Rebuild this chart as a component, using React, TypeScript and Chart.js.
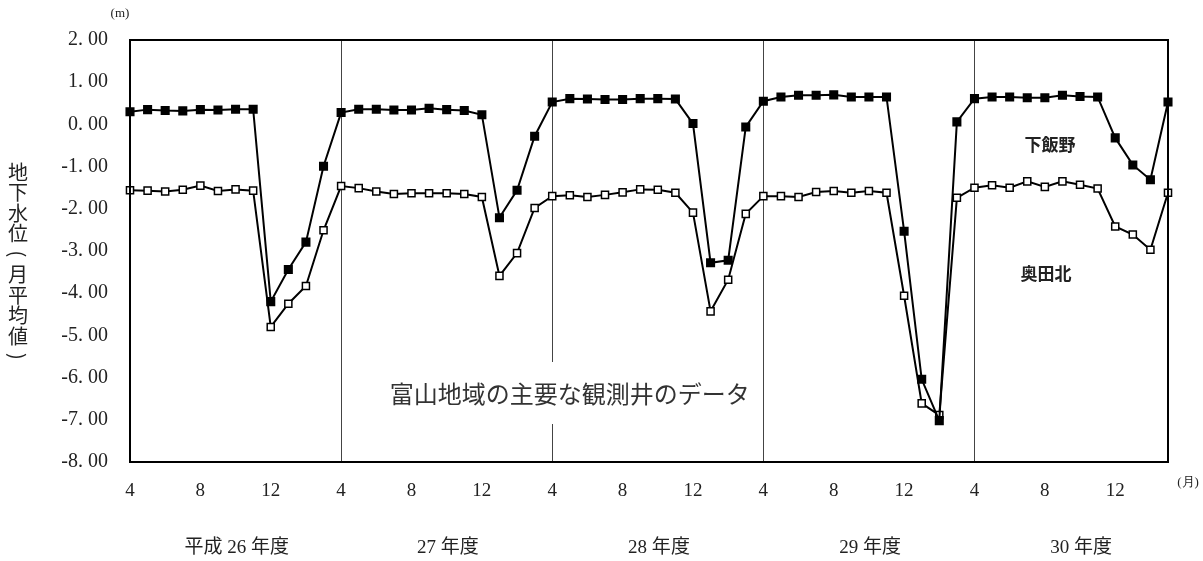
import React, { useEffect, useRef } from 'react'
import { Chart, registerables } from 'chart.js'

Chart.register(...registerables)

const months = [4, 5, 6, 7, 8, 9, 10, 11, 12, 1, 2, 3]
const years = ['平成 26 年度', '27 年度', '28 年度', '29 年度', '30 年度']
const categories = years.flatMap((y) => months.map((m) => `${y}-${m}`))
const tickMonths = [4, 8, 12]

const shimoIino = [
  0.30, 0.35, 0.33, 0.32, 0.35, 0.34, 0.36, 0.36, -4.20, -3.44, -2.79, -0.99,
  0.28, 0.36, 0.36, 0.34, 0.34, 0.38, 0.35, 0.33, 0.23, -2.21, -1.56, -0.28,
  0.53, 0.61, 0.60, 0.59, 0.59, 0.61, 0.61, 0.60, 0.02, -3.28, -3.22, -0.06,
  0.55, 0.65, 0.69, 0.69, 0.70, 0.65, 0.65, 0.65, -2.53, -6.04, -7.02, 0.06,
  0.61, 0.65, 0.65, 0.63, 0.63, 0.69, 0.66, 0.65, -0.32, -0.96, -1.31, 0.53,
]
const okudaKita = [
  -1.56, -1.57, -1.59, -1.55, -1.45, -1.58, -1.54, -1.57, -4.80, -4.25, -3.83, -2.51,
  -1.46, -1.51, -1.59, -1.65, -1.63, -1.63, -1.63, -1.65, -1.72, -3.59, -3.05, -1.98,
  -1.70, -1.68, -1.72, -1.67, -1.61, -1.54, -1.55, -1.62, -2.09, -4.43, -3.68, -2.12,
  -1.70, -1.70, -1.72, -1.60, -1.58, -1.62, -1.58, -1.62, -4.06, -6.61, -6.89, -1.74,
  -1.50, -1.44, -1.50, -1.35, -1.48, -1.35, -1.43, -1.52, -2.42, -2.61, -2.97, -1.62,
]

const serif = '"Liberation Serif", "DejaVu Serif", serif'
const jp = '"Liberation Serif", "Noto Sans CJK JP", sans-serif'

const overlay = {
  id: 'overlay',
  beforeDatasetsDraw(chart: any) {
    const { ctx, chartArea: a, scales } = chart
    const x = scales.x
    ctx.save()
    ctx.strokeStyle = '#444'
    ctx.lineWidth = 1
    for (let i = 1; i < years.length; i++) {
      const px = Math.round(x.getPixelForValue(i * 12)) + 0.5
      ctx.beginPath()
      ctx.moveTo(px, a.top)
      ctx.lineTo(px, a.bottom)
      ctx.stroke()
    }
    // caption with white background
    ctx.font = `24px "Noto Sans CJK JP", sans-serif`
    ctx.textAlign = 'center'
    ctx.textBaseline = 'middle'
    const cap = '富山地域の主要な観測井のデータ'
    const cx = x.getPixelForValue(25)
    const w = ctx.measureText(cap).width
    ctx.fillStyle = '#fff'
    ctx.fillRect(cx - w / 2 - 4, 362, w + 8, 62)
    ctx.fillStyle = '#333'
    ctx.fillText(cap, cx, 394)
    ctx.restore()
  },
  afterDraw(chart: any) {
    const { ctx, chartArea: a, scales } = chart
    const x = scales.x
    ctx.save()
    ctx.strokeStyle = '#000'
    ctx.lineWidth = 2
    ctx.strokeRect(a.left, a.top, a.right - a.left, a.bottom - a.top)
    ctx.fillStyle = '#222'
    ctx.textAlign = 'center'
    ctx.textBaseline = 'middle'
    ctx.font = `19px ${jp}`
    years.forEach((y, i) => {
      const px = (x.getPixelForValue(i * 12) + x.getPixelForValue(i * 12 + 11)) / 2 + 10
      ctx.fillText(y, px, 548)
    })
    ctx.font = `bold 17px "Noto Sans CJK JP", sans-serif`
    ctx.fillText('下飯野', 1050, 145)
    ctx.fillText('奥田北', 1046, 274)
    ctx.font = `13px ${serif}`
    ctx.fillText('(m)', 120, 14)
    ctx.fillText('(月)', 1188, 483)
    ctx.font = `20px "Noto Sans CJK JP", sans-serif`
    const title = '地下水位(月平均値)'
    ;[...title].forEach((c, i) => {
      if (c === '(' || c === ')') {
        ctx.save()
        ctx.translate(18, 172 + i * 20.5)
        ctx.rotate(Math.PI / 2)
        ctx.fillText(c, 0, 0)
        ctx.restore()
      } else ctx.fillText(c, 18, 172 + i * 20.5)
    })
    ctx.restore()
  },
}

const App = () => {
  const ref = useRef<HTMLCanvasElement>(null)

  useEffect(() => {
    if (!ref.current) return
    const chart = new Chart(ref.current, {
      type: 'line',
      data: {
        labels: categories,
        datasets: [
          {
            label: '下飯野',
            data: shimoIino,
            borderColor: '#000',
            backgroundColor: '#000',
            pointBackgroundColor: '#000',
            pointBorderColor: '#000',
            pointStyle: 'rect',
            pointRadius: 5,
            borderWidth: 2,
            tension: 0,
          },
          {
            label: '奥田北',
            data: okudaKita,
            borderColor: '#000',
            backgroundColor: '#fff',
            pointBackgroundColor: '#fff',
            pointBorderColor: '#000',
            pointBorderWidth: 1.5,
            pointStyle: 'rect',
            pointRadius: 5,
            borderWidth: 2,
            tension: 0,
          },
        ],
      },
      options: {
        animation: false,
        responsive: true,
        maintainAspectRatio: false,
        layout: { padding: { top: 40, right: 35, left: 0, bottom: 0 } },
        plugins: { legend: { display: false }, tooltip: { enabled: false } },
        scales: {
          x: {
            offset: false,
            grid: { display: false, drawTicks: false },
            border: { display: false },
            afterFit: (s: any) => { s.height = 99 },
            ticks: {
              autoSkip: false,
              maxRotation: 0,
              padding: 18,
              color: '#222',
              font: { family: serif, size: 19 },
              callback: (_v: any, i: number) => {
                const m = months[i % 12]
                return i % 12 < 9 && tickMonths.includes(m) ? String(m) : ''
              },
            },
          },
          y: {
            min: -8,
            max: 2,
            grid: { display: false },
            border: { display: false },
            afterFit: (s: any) => { s.width = 130 },
            ticks: {
              stepSize: 1,
              padding: 14,
              color: '#222',
              font: { family: serif, size: 20 },
              callback: (v: any) => Number(v).toFixed(2).replace('.', '. '),
            },
          },
        },
      },
      plugins: [overlay],
    })
    return () => chart.destroy()
  }, [])

  return (
    <div style={{ position: 'fixed', left: 0, top: 0, width: 1203, height: 561, background: '#fff' }}>
      <canvas ref={ref} />
    </div>
  )
}

export default App
